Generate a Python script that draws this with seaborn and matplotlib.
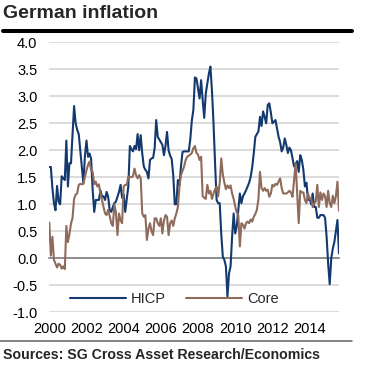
import matplotlib
matplotlib.use("Agg")
import matplotlib.pyplot as plt
from matplotlib.lines import Line2D
import seaborn as sns
import pandas as pd
import numpy as np

# monthly yoy rates, Jan 2000 onwards
hicp = [1.69, 1.69, 1.30, 1.02, 0.89, 1.34, 1.05, 1.00, 1.52, 1.48,
        1.45, 2.18, 1.33, 1.76, 1.76, 2.30, 2.82, 2.50, 2.38, 2.30,
        2.00, 1.70, 1.39, 1.90, 2.18, 1.88, 1.94, 1.84, 1.26, 0.86,
        1.08, 1.08, 1.08, 1.26, 1.14, 1.15, 1.08, 1.23, 1.14, 0.89,
        0.86, 0.95, 1.02, 1.05, 1.14, 1.23, 1.36, 1.12, 1.18, 0.86,
        1.10, 1.33, 2.08, 2.02, 1.98, 2.08, 2.02, 2.30, 2.00, 2.28,
        1.94, 1.70, 1.64, 1.60, 1.48, 1.82, 1.85, 1.86, 2.04, 2.56,
        2.25, 2.20, 2.15, 2.10, 1.91, 2.08, 2.34, 2.00, 1.90, 1.84,
        1.54, 1.00, 1.00, 1.45, 1.35, 1.70, 1.97, 1.98, 1.98, 1.98,
        1.98, 2.20, 2.55, 2.75, 3.35, 3.33, 3.15, 2.96, 3.30, 2.93,
        2.60, 3.05, 3.23, 3.42, 3.55, 3.10, 2.50, 1.76, 1.08, 1.02,
        1.02, 0.45, 0.03, -0.03, -0.15, -0.71, -0.28, -0.15, 0.40, 0.83,
        0.46, 0.59, 0.89, 1.20, 1.02, 1.15, 1.20, 1.26, 1.33, 1.40,
        1.51, 1.69, 1.95, 2.25, 2.30, 2.35, 2.62, 2.45, 2.72, 2.62,
        2.50, 2.84, 2.87, 2.70, 2.50, 2.53, 2.56, 2.40, 2.25, 2.15,
        1.98, 2.05, 2.22, 2.10, 1.95, 2.05, 2.00, 1.85, 1.70, 1.75,
        1.80, 1.60, 1.91, 1.82, 1.64, 1.33, 1.40, 1.08, 1.12, 1.00,
        1.20, 0.95, 0.95, 0.75, 0.75, 0.80, 0.80, 0.80, 0.75, 0.40,
        -0.10, -0.48, 0.00, 0.18, 0.30, 0.50, 0.71, 0.09]

core = [0.66, 0.05, 0.40, -0.03, -0.10, -0.17, -0.10, -0.12, -0.19, -0.15,
        -0.20, 0.60, 0.30, 0.45, 0.64, 0.75, 1.10, 1.18, 1.20, 1.36,
        1.38, 1.37, 1.38, 1.51, 1.63, 1.73, 1.79, 1.63, 1.60, 1.37,
        1.42, 1.33, 1.37, 1.20, 1.08, 0.95, 0.83, 0.80, 0.90, 0.78,
        0.65, 0.60, 1.00, 0.85, 0.43, 0.83, 0.70, 0.65, 1.33, 1.36,
        1.36, 1.51, 1.51, 1.50, 1.52, 1.66, 1.54, 1.48, 1.54, 1.48,
        0.83, 0.77, 0.80, 0.34, 0.55, 0.65, 0.50, 0.43, 0.74, 0.74,
        0.65, 0.60, 0.74, 0.46, 0.70, 0.80, 0.77, 0.43, 0.65, 0.70,
        0.60, 0.74, 0.83, 0.95, 1.33, 1.54, 1.62, 1.70, 1.82, 1.88,
        1.90, 1.92, 1.95, 2.04, 2.08, 1.95, 1.92, 1.82, 1.88, 1.15,
        1.12, 1.10, 1.36, 1.20, 1.25, 1.10, 1.20, 1.28, 1.33, 1.15,
        1.40, 1.85, 1.55, 1.40, 1.28, 1.35, 1.30, 1.35, 1.20, 1.10,
        0.96, 0.85, 0.80, 0.22, 0.65, 0.62, 0.55, 0.65, 0.68, 0.65,
        0.72, 0.68, 0.77, 0.82, 0.90, 1.10, 1.60, 1.30, 1.25, 1.30,
        1.25, 1.27, 1.14, 1.20, 1.36, 1.33, 1.38, 1.36, 1.42, 1.48,
        1.30, 1.20, 1.20, 1.20, 1.22, 1.25, 1.22, 1.14, 1.45, 1.76,
        1.20, 0.65, 1.25, 1.22, 1.22, 1.08, 1.02, 1.20, 1.10, 1.12,
        0.95, 1.02, 1.05, 1.36, 0.95, 1.22, 1.08, 1.20, 1.15, 0.95,
        1.25, 1.02, 0.95, 1.16, 1.02, 1.15, 1.42, 0.88]

series_names = ["HICP", "Core"]
year_ticks = [2000, 2002, 2004, 2006, 2008, 2010, 2012, 2014]
y_ticks = [-1.0, -0.5, 0.0, 0.5, 1.0, 1.5, 2.0, 2.5, 3.0, 3.5, 4.0]

NAVY = "#13396f"
BROWN = "#8f6b5b"

months = pd.date_range("2000-01-01", periods=len(hicp), freq="MS")
x = months.year + (months.month - 1) / 12.0
n = len(hicp)
df = pd.DataFrame({
    "year": np.concatenate([x, x]),
    "value": hicp + core,
    "series": [series_names[0]] * n + [series_names[1]] * n,
})

sns.set_style("white")
plt.rcParams["font.family"] = ["Liberation Sans", "DejaVu Sans"]

W, H = 365, 370
fig = plt.figure(figsize=(W / 100, H / 100), dpi=100)
ax = fig.add_axes([49.3 / W, 1 - 312.3 / H, (339 - 49.3) / W, (312.3 - 42.3) / H])

sns.lineplot(data=df, x="year", y="value", hue="series", hue_order=series_names,
             palette={"HICP": NAVY, "Core": BROWN}, linewidth=1.5, ax=ax,
             legend=False, zorder=3)

ax.set_xlim(x[0], x[-1])
ax.set_ylim(-1, 4)
ax.set_yticks(y_ticks)
ax.set_yticklabels([f"{v:.1f}" for v in y_ticks])
ax.set_xticks(year_ticks)
ax.set_xticklabels([str(y) for y in year_ticks])
ax.set_xlabel("")
ax.set_ylabel("")

ax.set_axisbelow(True)
ax.grid(axis="y", color="#d2d2d2", linewidth=1.1)
ax.grid(axis="x", visible=False)
for s in ["top", "right", "left"]:
    ax.spines[s].set_visible(False)
ax.spines["bottom"].set_position(("data", 0))
ax.spines["bottom"].set_color("#7a7a7a")
ax.spines["bottom"].set_linewidth(1.1)
ax.tick_params(axis="x", direction="out", length=3, width=1, color="#7a7a7a",
               pad=43, labelsize=10.5, labelcolor="black")
ax.tick_params(axis="y", length=0, pad=8.5, labelsize=10.5, labelcolor="black")

handles = [Line2D([], [], color=NAVY, lw=1.5), Line2D([], [], color=BROWN, lw=1.5)]
ax.legend(handles, series_names, loc="center", bbox_to_anchor=(174.5 / W, 1 - 299.3 / H),
          bbox_transform=fig.transFigure, ncol=2, frameon=False, handlelength=3.8,
          handletextpad=0.35, columnspacing=1.4, fontsize=10.5, borderpad=0)

# header / footer
fig.text(3 / W, 1 - 18.3 / H, "German inflation", fontsize=14, fontweight="bold",
         va="baseline", ha="left")
fig.add_artist(Line2D([3 / W, 352 / W], [1 - 31.3 / H] * 2, color="black", lw=2.9,
                      transform=fig.transFigure))
fig.add_artist(Line2D([0, 352 / W], [1 - 340.7 / H] * 2, color="#606060", lw=1.1,
                      transform=fig.transFigure))
fig.text(3 / W, 1 - 359.3 / H, "Sources: SG Cross Asset Research/Economics", fontsize=10.2,
         fontweight="bold", va="baseline", ha="left")

fig.savefig("out.png", dpi=100)
